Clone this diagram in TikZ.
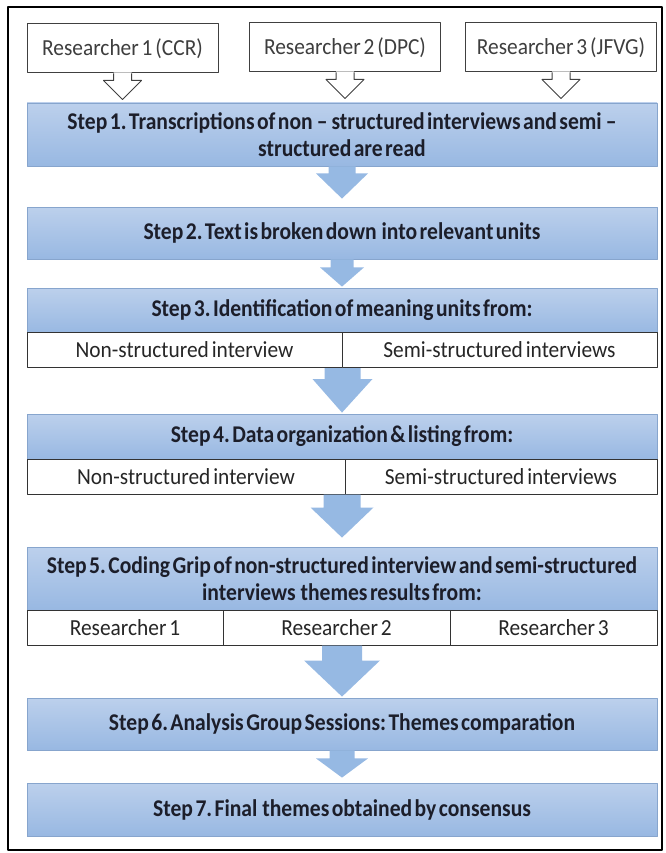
\documentclass[tikz,border=0pt]{standalone}
\usepackage{fontspec}
\setmainfont{Carlito}[FakeStretch=0.93, WordSpace=0.6,
  BoldFeatures={FakeStretch=0.9, WordSpace=0.5}]
\frenchspacing
\usetikzlibrary{calc}
\definecolor{barTop}{RGB}{188,208,236}
\definecolor{barBot}{RGB}{152,184,226}
\definecolor{barLine}{RGB}{135,165,205}
\definecolor{arrowBlue}{RGB}{150,185,227}
\definecolor{stepText}{RGB}{28,30,42}
\definecolor{boxText}{RGB}{62,62,62}
% block arrow: start, target node, stem half width, head half width, stem length, gap to target
\newcommand{\flowarrow}[6]{%
  \fill[arrowBlue] ($(#1)+(-#3,0)$) -- ++(0,#5) -- ++(#3-#4,0) -- ($(#2.north)+(0,-#6)$)
    -- ($(#1)+(#4,#5)$) -- ++(#3-#4,0) -- ($(#1)+(#3,0)$) -- cycle;}
\begin{document}
\begin{tikzpicture}[x=1pt, y=-1pt, line join=round,
    stepbar/.style={draw=barLine, line width=0.8pt, top color=barTop, bottom color=barBot,
      minimum width=630pt, align=center, inner sep=0pt,
      font=\bfseries\fontsize{24}{27}\selectfont, text=stepText},
    cell/.style={draw=black!80, line width=1pt, fill=white, minimum height=35pt, inner sep=0pt,
      font=\fontsize{23}{26}\selectfont, text=black!85},
    rbox/.style={draw=black!75, line width=1pt, fill=white, minimum width=191pt, minimum height=49pt,
      inner sep=0pt, font=\fontsize{23}{26}\selectfont, text=boxText}]
  \useasboundingbox (0,0) rectangle (665,853);
  \draw[line width=2.5pt] (8,7) rectangle (662,850);
  \def\xc{342}
  % researchers
  \node[rbox] (r1) at (122.5,48.5) {Researcher 1 (CCR)};
  \node[rbox] (r2) at (345,47.5) {Researcher 2 (DPC)};
  \node[rbox] (r3) at (561,47.5) {Researcher 3 (JFVG)};
  \foreach \r in {r1,r2,r3}{
    \fill[white] (\r.south) ++(-9,-1) -- ++(0,8) -- ++(-10,0) -- ++(19,19) -- ++(19,-19) -- ++(-10,0) -- ++(0,-8) -- cycle;
    \draw[black!75, line width=1pt] (\r.south) ++(-9,0) -- ++(0,7) -- ++(-10,0) -- ++(19,19) -- ++(19,-19) -- ++(-10,0) -- ++(0,-7);
  }
  % steps
  \node[stepbar, minimum height=63pt] (s1) at (\xc,134.5)
    {Step 1. Transcriptions of non\,–\,structured interviews and semi\,–\\ structured are read};
  \node[stepbar, minimum height=52pt] (s2) at (\xc,233) {Step 2. Text is broken down\ \ into relevant units};
  \node[stepbar, minimum height=45pt] (s3) at (\xc,310.5) {Step 3. Identification of meaning units from:};
  \node[cell, minimum width=315pt] (c3a) at (184.5,350) {Non-structured interview};
  \node[cell, minimum width=315pt] (c3b) at (499.5,350) {Semi-structured interviews};
  \node[stepbar, minimum height=45pt] (s4) at (\xc,436.5) {Step 4. Data organization \& listing from:};
  \node[cell, minimum width=318pt] (c4a) at (186,476.5) {Non-structured interview};
  \node[cell, minimum width=312pt] (c4b) at (501,476.5) {Semi-structured interviews};
  \node[stepbar, minimum height=63pt] (s5) at (\xc,578.5)
    {Step 5. Coding Grip of non-structured interview and semi-structured\\ interviews\ \ themes results from:};
  \node[cell, minimum width=196pt] (c5a) at (125,627.5) {Researcher 1};
  \node[cell, minimum width=227pt] (c5b) at (336.5,627.5) {Researcher 2};
  \node[cell, minimum width=207pt] (c5c) at (553.5,627.5) {Researcher 3};
  \node[stepbar, minimum height=52pt] (s6) at (\xc,724) {Step 6. Analysis Group Sessions: Themes comparation};
  \node[stepbar, minimum height=53pt] (s7) at (\xc,809.5) {Step 7. Final\ \ themes obtained by consensus};
  % arrows
  \coordinate (o3) at (c3a.south east);
  \coordinate (o4) at (c4a.south -| s4.south);
  \coordinate (o5) at (c5b.south -| s5.south);
  \flowarrow{s1.south}{s2}{13.5}{26}{7}{8}
  \flowarrow{s2.south}{s3}{11.5}{22}{8}{1}
  \flowarrow{o3}{s4}{18}{30}{11}{1}
  \flowarrow{o4}{s5}{18.5}{31.5}{13}{9}
  \flowarrow{o5}{s6}{20}{38}{15}{1}
  \flowarrow{s6.south}{s7}{12.5}{26}{8}{5}
\end{tikzpicture}
\end{document}
